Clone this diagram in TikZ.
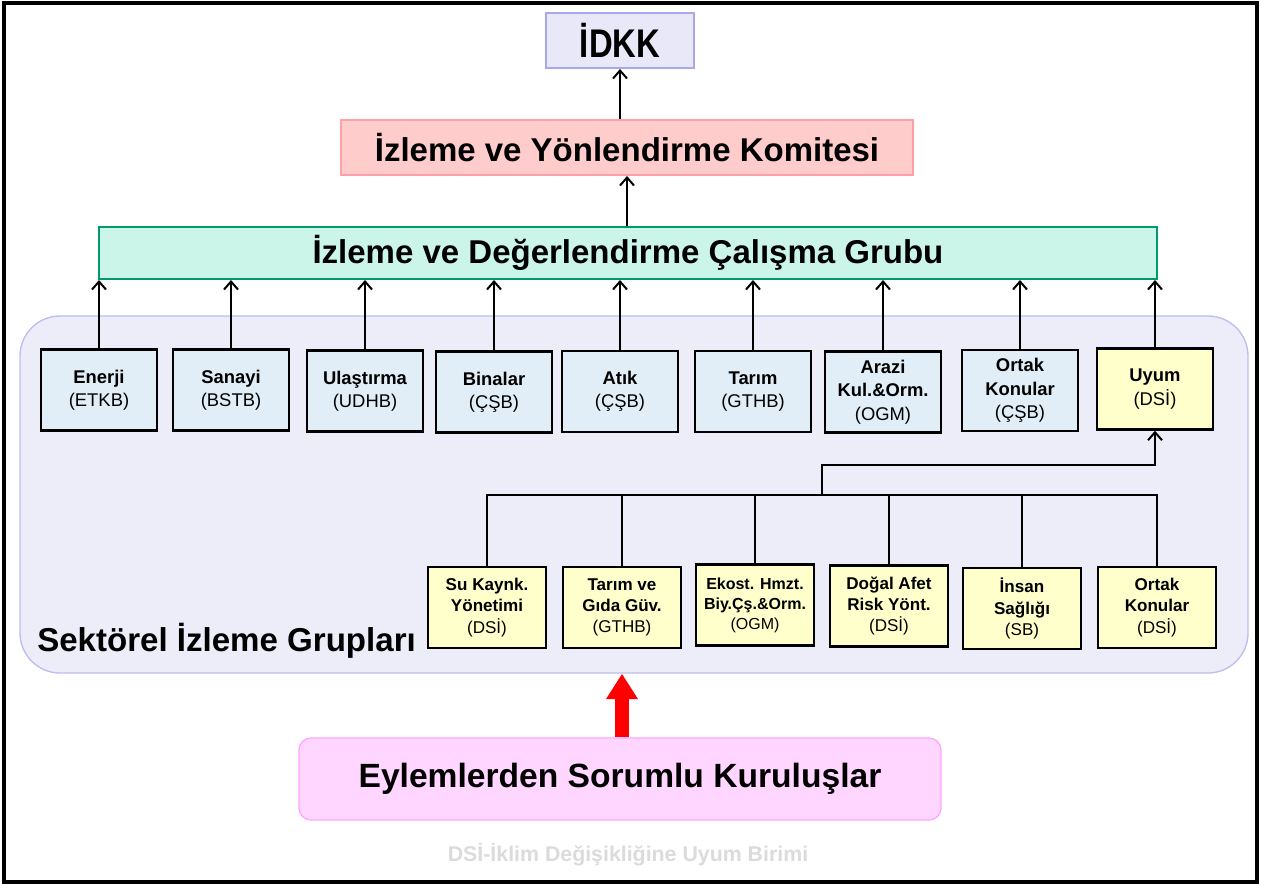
\documentclass[tikz,border=0pt]{standalone}
\usepackage{fontspec}
\setmainfont{Liberation Sans}
\newfontfamily\narrowfont{Liberation Sans}[FakeStretch=0.82]
\usepackage{tikz}
\usetikzlibrary{arrows,arrows.meta,shapes,positioning}
\usepackage{xcolor}
\definecolor{idkfill}{RGB}{232,232,248}
\definecolor{idkdraw}{RGB}{168,168,232}
\definecolor{komfill}{RGB}{255,204,204}
\definecolor{komdraw}{RGB}{255,159,170}
\definecolor{grupfill}{RGB}{204,245,234}
\definecolor{grupdraw}{RGB}{0,153,107}
\definecolor{sekfill}{RGB}{237,236,249}
\definecolor{sekdraw}{RGB}{189,189,240}
\definecolor{sectorblue}{RGB}{225,238,247}
\definecolor{sectoryellow}{RGB}{255,255,204}
\definecolor{eylfill}{RGB}{255,214,255}
\definecolor{eyldraw}{RGB}{255,166,255}
\tikzstyle{topbox} = [rectangle, text centered, line width=1.5pt, inner sep=2pt, font=\bfseries\fontsize{24.75}{28}\selectfont]
\tikzstyle{sector} = [rectangle, minimum width=87pt, minimum height=60.75pt, align=center, draw=black, fill=sectorblue, line width=1.8pt, inner sep=1pt, font=\fontsize{13.8}{17.5}\selectfont]
\tikzstyle{subsector} = [sector, minimum width=88.5pt, fill=sectoryellow, font=\fontsize{12.8}{16}\selectfont]
\tikzstyle{arrow} = [line width=1.5pt, -{Straight Barb[length=6pt, width=10.5pt]}, color=black]
\tikzstyle{link} = [line width=1.5pt, color=black]

\begin{document}
\begin{tikzpicture}[x=0.75pt, y=-0.75pt]
\useasboundingbox (0,0) rectangle (1261,885);
\draw[line width=2.5pt] (4,3) rectangle (1257,882);

% Sectoral groups background
\node (sektorel) [rectangle, rounded corners=30pt, minimum width=921pt, minimum height=267.75pt, draw=sekdraw, fill=sekfill, line width=1pt] at (634,494.5) {};
\node (sektorlabel) [anchor=base west, inner sep=0pt, font=\bfseries\fontsize{24.8}{28}\selectfont] at (37,651) {Sektörel İzleme Grupları};

% Committees
\node (idkk) [topbox, minimum width=111pt, minimum height=41.25pt, draw=idkdraw, fill=idkfill, font=\narrowfont\bfseries\fontsize{30}{32}\selectfont] at (620,40.5) {İDKK};
\node (komite) [topbox, minimum width=429pt, minimum height=41.25pt, draw=komdraw, fill=komfill] at (627,147.5) {İzleme ve Yönlendirme Komitesi};
\node (grup) [topbox, minimum width=793.5pt, minimum height=39pt, draw=grupdraw, fill=grupfill] at (628,253) {İzleme ve Değerlendirme Çalışma Grubu};

% Sectors
\node (enerji) [sector] at (99,390) {\textbf{Enerji}\\(ETKB)};
\node (sanayi) [sector] at (231,390) {\textbf{Sanayi}\\(BSTB)};
\node (ulastirma) [sector] at (365,391) {\textbf{Ulaştırma}\\(UDHB)};
\node (binalar) [sector] at (494,392) {\textbf{Binalar}\\(ÇŞB)};
\node (atik) [sector] at (620,391.5) {\textbf{Atık}\\(ÇŞB)};
\node (tarim) [sector] at (753,391.5) {\textbf{Tarım}\\(GTHB)};
\node (arazi) [sector] at (883,392) {\textbf{Arazi}\\\textbf{Kul.\&Orm.}\\(OGM)};
\node (ortak) [sector] at (1020,390.5) {\textbf{Ortak}\\\textbf{Konular}\\(ÇŞB)};
\node (uyum) [sector, fill=sectoryellow] at (1155,389) {\textbf{Uyum}\\(DSİ)};

% Adaptation subgroups
\node (su) [subsector] at (487,607.5) {\textbf{Su Kaynk.}\\\textbf{Yönetimi}\\(DSİ)};
\node (gida) [subsector] at (622,607.5) {\textbf{Tarım ve}\\\textbf{Gıda Güv.}\\(GTHB)};
\node (ekost) [subsector, font=\fontsize{12}{15}\selectfont] at (755,605) {\textbf{Ekost. Hmzt.}\\\textbf{Biy.Çş.\&Orm.}\\(OGM)};
\node (afet) [subsector] at (889,606) {\textbf{Doğal Afet}\\\textbf{Risk Yönt.}\\(DSİ)};
\node (saglik) [subsector] at (1022,608.5) {\textbf{İnsan}\\\textbf{Sağlığı}\\(SB)};
\node (ortakdsi) [subsector] at (1157,607.5) {\textbf{Ortak}\\\textbf{Konular}\\(DSİ)};

\node (eylem) [topbox, rounded corners=9pt, minimum width=481.5pt, minimum height=61.5pt, draw=eyldraw, fill=eylfill, line width=1pt, font=\bfseries\fontsize{25.2}{28}\selectfont] at (620,779) {Eylemlerden Sorumlu Kuruluşlar};

\node (filigran) [text=gray!28, font=\bfseries\fontsize{16}{18}\selectfont] at (628,855) {DSİ-İklim Değişikliğine Uyum Birimi};

% Arrows
\draw[arrow] (komite.north -| idkk.south) -- (idkk.south);
\draw[arrow] (grup.north -| komite.south) -- (komite.south);
\foreach \s in {enerji,sanayi,ulastirma,binalar,atik,tarim,arazi,ortak,uyum}
  \draw[arrow] (\s.north) -- (\s.north |- grup.south);

% Subgroup tree
\coordinate (bus) at (822,495);
\draw[link] (su.north) |- (bus) -| (ortakdsi.north);
\foreach \s in {gida,ekost,afet,saglik}
  \draw[link] (\s.north) -- (\s.north |- bus);
\draw[arrow] (bus) -- ++(0,-30) -| (uyum.south);

% Input
\draw[-{Triangle[width=22.5pt, length=19pt]}, line width=10.5pt, color=red] (eylem.north -| gida.south) -- (sektorel.south -| gida.south);
\end{tikzpicture}
\end{document}
